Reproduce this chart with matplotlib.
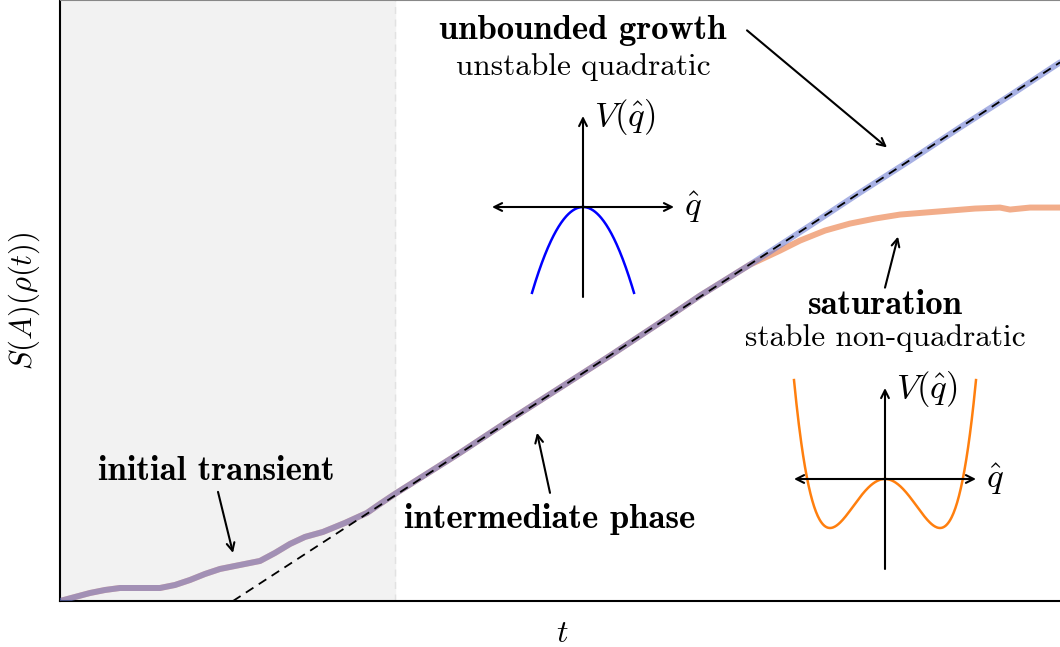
import numpy as np
import matplotlib
matplotlib.use('Agg')
import matplotlib.pyplot as plt

plt.rcParams['mathtext.fontset'] = 'cm'
plt.rcParams['font.family'] = 'cmr10'
plt.rcParams['axes.unicode_minus'] = False

# main curves (t, S)
t_common = [0.0, 0.15, 0.3, 0.45, 0.6, 0.8, 1.0, 1.15, 1.3, 1.45, 1.6, 1.8, 2.0, 2.15,
            2.3, 2.45, 2.63, 2.85, 3.07, 3.2, 3.35, 4.0, 4.5, 5.0, 5.5, 6.0, 6.4, 6.9]
s_common = [0.0, 0.04, 0.08, 0.11, 0.13, 0.13, 0.13, 0.16, 0.21, 0.27, 0.32, 0.36, 0.40, 0.48,
            0.57, 0.64, 0.69, 0.78, 0.88, 0.97, 1.07, 1.48, 1.81, 2.13, 2.45, 2.78, 3.05, 3.36]

t_growth = [6.9, 7.5, 8.0, 8.5, 9.0, 9.5, 10.0]
s_growth = [3.36, 3.75, 4.08, 4.40, 4.73, 5.05, 5.38]

t_sat = [6.9, 7.2, 7.4, 7.65, 7.9, 8.15, 8.4, 8.65, 8.9, 9.15, 9.4, 9.5, 9.7, 10.0]
s_sat = [3.36, 3.50, 3.60, 3.70, 3.77, 3.82, 3.86, 3.88, 3.90, 3.92, 3.93, 3.91, 3.93, 3.93]

# linear fit of the intermediate phase
fit_t = [1.73, 10.0]
fit_s = [0.0, 5.38]

transient_end = 3.35

fig = plt.figure(figsize=(10.6, 6.47), dpi=100)
ax = fig.add_axes([60 / 1060, 46 / 647, 1000 / 1060, 601 / 647 - 0.0005])

ax.axvspan(0, transient_end, color='#f2f2f2', zorder=0)
ax.axvline(transient_end, color='#e2e2e2', ls=(0, (5, 4)), lw=1, zorder=0)

orange = '#f2ad8a'
blue = '#6e7dd2'
ax.plot(t_common + t_sat[1:], s_common + s_sat[1:], color=orange, lw=4.3,
        solid_capstyle='round', solid_joinstyle='round', zorder=2)
ax.plot(t_common + t_growth[1:], s_common + s_growth[1:], color=blue, lw=4.3,
        alpha=0.6, solid_capstyle='round', solid_joinstyle='round', zorder=3)
ax.plot(fit_t, fit_s, color='black', ls=(0, (5, 3.5)), lw=1.3, zorder=4)

ax.set_xlim(0, 10)
ax.set_ylim(0, 6)
ax.set_xticks([])
ax.set_yticks([])
ax.spines['right'].set_visible(False)
ax.spines['top'].set_color('#888888')
for s in ['left', 'bottom']:
    ax.spines[s].set_linewidth(1.5)
ax.set_xlabel(r'$t$', fontsize=23)
ax.xaxis.set_label_coords(0.502, -0.033)
ax.set_ylabel(r'$S(A)(\rho(t))$', fontsize=22)
ax.yaxis.set_label_coords(-0.018, 0.5)

fs = 22.5
fsb = 25
arrow = dict(arrowstyle='->', lw=1.5, color='black', shrinkA=0, shrinkB=0,
             mutation_scale=14)

ax.text(5.23, 5.70, 'unbounded growth', family='cmb10', fontsize=fsb, ha='center', va='center')
ax.text(5.23, 5.33, 'unstable quadratic', fontsize=fs, ha='center', va='center')
ax.annotate('', xy=(8.27, 4.53), xytext=(6.87, 5.70), arrowprops=arrow)

ax.text(8.25, 2.955, 'saturation', family='cmb10', fontsize=fsb, ha='center', va='center')
ax.text(8.25, 2.63, 'stable non-quadratic', fontsize=fs, ha='center', va='center')
ax.annotate('', xy=(8.38, 3.64), xytext=(8.25, 3.13), arrowprops=arrow)

ax.text(1.56, 1.29, 'initial transient', family='cmb10', fontsize=fsb, ha='center', va='center')
ax.annotate('', xy=(1.73, 0.48), xytext=(1.58, 1.09), arrowprops=arrow)

ax.text(4.90, 0.82, 'intermediate phase', family='cmb10', fontsize=fsb, ha='center', va='center')
ax.annotate('', xy=(4.77, 1.68), xytext=(4.90, 1.08), arrowprops=arrow)


def potential_inset(cx, cy, q, v, color):
    # inset centred on pixel (cx, cy); 1 unit = 50 px
    w = 200
    ins = fig.add_axes([(cx - w / 2) / 1060, (647 - cy - w / 2) / 647, w / 1060, w / 647])
    ins.set_xlim(-2, 2)
    ins.set_ylim(-2, 2)
    ins.axis('off')
    ins.patch.set_alpha(0)
    ax_arrow = dict(arrowstyle='<->', lw=1.5, color='black', shrinkA=0, shrinkB=0,
                    mutation_scale=14)
    ins.annotate('', xy=(1.82, 0), xytext=(-1.82, 0), arrowprops=ax_arrow)
    ins.annotate('', xy=(0, 1.82), xytext=(0, -1.8),
                 arrowprops=dict(ax_arrow, arrowstyle='->'))
    ins.plot(q, v, color=color, lw=1.8, clip_on=False)
    ins.text(0.22, 1.8, r'$V(\hat{q})$', fontsize=25, ha='left', va='center')
    ins.text(2.02, 0, r'$\hat{q}$', fontsize=25, ha='left', va='center')
    return ins


# schematic potentials
q_quad = np.linspace(-1.02, 1.02, 200)
v_quad = -1.65 * q_quad ** 2
well_min, well_depth = 1.1, 0.98
q_dw = np.linspace(-1.82, 1.82, 300)
v_dw = well_depth * ((q_dw / well_min) ** 4 - 2 * (q_dw / well_min) ** 2)

potential_inset(583, 207, q_quad, v_quad, '#0000ff')
potential_inset(885, 479, q_dw, v_dw, '#ff7f0e')

fig.savefig('out.png', dpi=100)
